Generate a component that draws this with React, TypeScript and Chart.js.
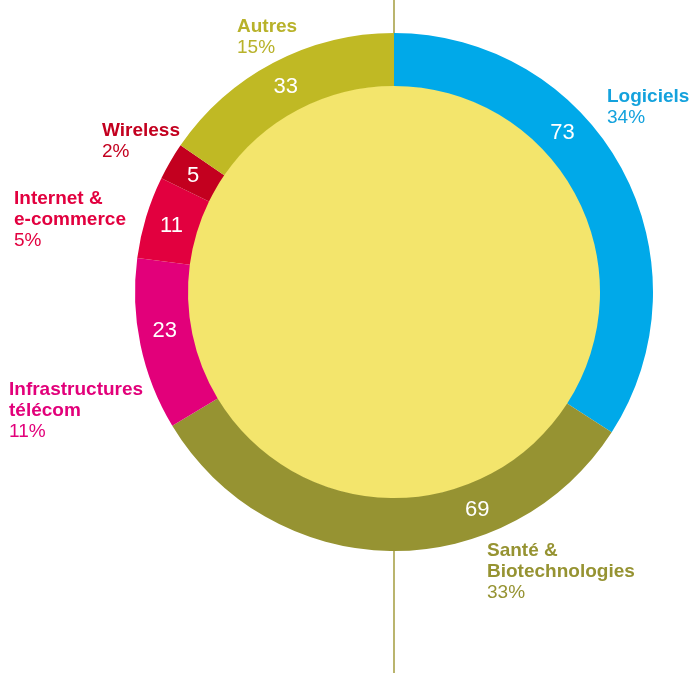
import React, { useEffect, useRef } from "react";
import { Chart, registerables } from "chart.js";

Chart.register(...registerables);

const categories = [
  "Logiciels",
  "Santé & Biotechnologies",
  "Infrastructures télécom",
  "Internet & e-commerce",
  "Wireless",
  "Autres",
];
const labelLines = [
  ["Logiciels"],
  ["Santé &", "Biotechnologies"],
  ["Infrastructures", "télécom"],
  ["Internet &", "e-commerce"],
  ["Wireless"],
  ["Autres"],
];
const values = [73, 69, 23, 11, 5, 33];
const percents = ["34%", "33%", "11%", "5%", "2%", "15%"];

// styles
const ringColors = ["#00a9e9", "#969332", "#e2007a", "#e2003f", "#c3001f", "#c0b924"];
const textColors = ["#14a2dd", "#969332", "#e2007a", "#e2003f", "#c3001f", "#b8b22a"];
const labelAnchors = [
  [607, 102],
  [487, 556],
  [9, 395],
  [14, 204],
  [102, 136],
  [237, 32],
];
const valueLabelFraction = [0.378, 0.312, 0.56, 0.5, 0.5, 0.5];
const FONT = '"Liberation Sans", Arial, Helvetica, sans-serif';
const INNER_FILL = "#f3e56c";
const LINE_COLOR = "#a9a24a";

const backdropPlugin = {
  id: "backdrop",
  beforeDatasetsDraw(chart: any) {
    const meta = chart.getDatasetMeta(0);
    const arc = meta.data[0];
    if (!arc) return;
    const { x, y, innerRadius } = arc.getProps(["x", "y", "innerRadius"], true);
    const ctx = chart.ctx;
    ctx.save();
    ctx.strokeStyle = LINE_COLOR;
    ctx.lineWidth = 1.6;
    ctx.beginPath();
    ctx.moveTo(x, 0);
    ctx.lineTo(x, chart.height);
    ctx.stroke();
    ctx.fillStyle = INNER_FILL;
    ctx.beginPath();
    ctx.arc(x, y, innerRadius + 0.6, 0, Math.PI * 2);
    ctx.fill();
    ctx.restore();
  },
};

const labelsPlugin = {
  id: "labels",
  afterDatasetsDraw(chart: any) {
    const ctx = chart.ctx;
    const meta = chart.getDatasetMeta(0);
    ctx.save();
    // values inside ring
    meta.data.forEach((el: any, i: number) => {
      const { x, y, startAngle, endAngle, innerRadius, outerRadius } = el.getProps(
        ["x", "y", "startAngle", "endAngle", "innerRadius", "outerRadius"],
        true
      );
      const a = startAngle + (endAngle - startAngle) * valueLabelFraction[i];
      const r = (innerRadius + outerRadius) / 2;
      ctx.fillStyle = "#ffffff";
      ctx.font = `22px ${FONT}`;
      ctx.textAlign = "center";
      ctx.textBaseline = "middle";
      ctx.fillText(String(values[i]), x + Math.cos(a) * r, y + Math.sin(a) * r + 1);
    });
    // outside labels
    ctx.textAlign = "left";
    ctx.textBaseline = "alphabetic";
    labelLines.forEach((lines, i) => {
      const [lx, ly] = labelAnchors[i];
      ctx.fillStyle = textColors[i];
      ctx.font = `bold 19px ${FONT}`;
      lines.forEach((ln, j) => {
        ctx.fillText(ln, lx, ly + j * 21.2);
      });
      ctx.font = `19px ${FONT}`;
      ctx.fillText(percents[i], lx, ly + lines.length * 21.2);
    });
    ctx.restore();
  },
};

export default function App() {
  const ref = useRef<HTMLCanvasElement | null>(null);
  useEffect(() => {
    if (!ref.current) return;
    const chart = new Chart(ref.current, {
      type: "doughnut",
      data: {
        labels: categories,
        datasets: [
          {
            data: values,
            backgroundColor: ringColors,
            borderWidth: 0,
            hoverOffset: 0,
          },
        ],
      },
      options: {
        responsive: false,
        animation: false,
        cutout: 206,
        rotation: 0,
        layout: { padding: { left: 135, right: 38, top: 33, bottom: 122 } },
        plugins: {
          legend: { display: false },
          tooltip: { enabled: false },
        },
        events: [],
      },
      plugins: [backdropPlugin, labelsPlugin],
    });
    return () => chart.destroy();
  }, []);
  return (
    <div style={{ position: "fixed", left: 0, top: 0, width: 691, height: 673, background: "#fff" }}>
      <canvas ref={ref} width={691} height={673} style={{ display: "block", width: 691, height: 673 }} />
    </div>
  );
}
